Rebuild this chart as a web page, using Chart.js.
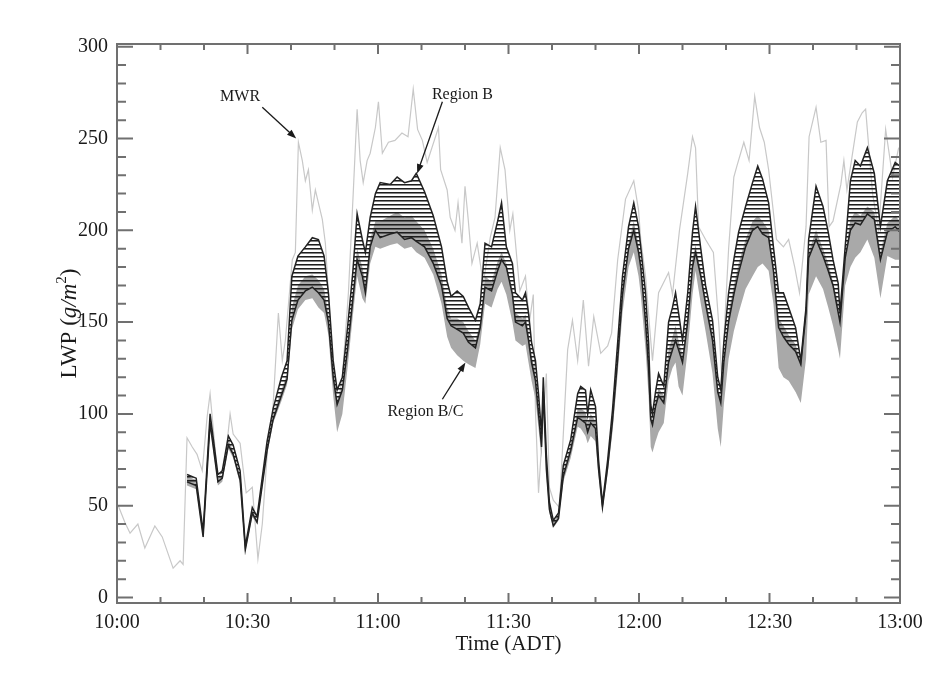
<!DOCTYPE html>
<html>
<head>
<meta charset="utf-8">
<script src="https://cdn.jsdelivr.net/npm/chart.js@4.4.0/dist/chart.umd.min.js"></script>
<style>
html, body { margin: 0; padding: 0; background: #fff; }
</style>
</head>
<body>
<canvas id="chart" width="931" height="673"></canvas>
<script>
// minutes after 10:00 ADT
var xTickValues = [0, 30, 60, 90, 120, 150, 180];
var yTickValues = [0, 50, 100, 150, 200, 250, 300];

var bandTime = [
    16.1, 18.2, 19.8, 21.4, 23.2, 24.2, 25.6, 26.7, 28.3, 29.5,
    31.1, 32.2, 34.5, 35.9, 37.8, 39.1, 40.2, 41.6, 43.3, 44.9,
    46.3, 47.6, 48.6, 49.7, 50.6, 51.8, 53.0, 54.2, 55.2, 56.4,
    57.1, 58.2, 59.4, 60.5, 62.8, 64.4, 66.1, 67.7, 68.8, 70.7,
    72.7, 74.6, 75.9, 76.8, 78.2, 79.6, 80.8, 82.4, 83.5, 84.6,
    86.1, 87.5, 88.4, 89.5, 90.9, 91.6, 93.2, 93.9, 94.6, 95.3,
    96.2, 96.9, 97.6, 98.0, 98.7, 99.4, 100.3, 101.5, 102.6, 104.3,
    105.9, 106.6, 107.7, 108.2, 108.9, 110.0, 110.7, 111.6, 112.8, 113.9,
    115.1, 116.2, 117.6, 118.8, 119.9, 120.4, 121.5, 122.2, 122.7, 123.1,
    123.8, 124.5, 125.7, 126.8, 127.7, 128.4, 129.1, 130.0, 131.2, 132.3,
    133.0, 134.2, 135.3, 136.9, 138.1, 138.8, 139.5, 140.6, 141.8, 142.9,
    144.5, 146.1, 147.3, 148.4, 149.8, 150.9, 152.1, 153.2, 154.4, 156.0,
    157.2, 158.4, 159.0, 160.7, 162.3, 163.5, 164.6, 165.8, 166.2, 167.4,
    168.6, 169.7, 170.9, 172.5, 174.1, 175.5, 177.1, 178.9, 180.0
];
var regionBTop = [
    67, 65, 36, 100, 67, 69, 88, 83, 69, 28,
    49, 44, 85, 103, 120, 129, 175, 186, 191, 196,
    195, 186, 166, 129, 113, 120, 147, 177, 209, 195,
    188, 207, 220, 226, 225, 229, 226, 227, 231, 221,
    208, 191, 172, 164, 167, 164, 158, 151, 160, 193,
    191, 205, 215, 191, 182, 166, 162, 166, 155, 139,
    129, 111, 89, 120, 78, 52, 42, 46, 72, 86,
    111, 115, 113, 100, 113, 104, 75, 51, 75, 102,
    139, 175, 202, 215, 202, 191, 166, 139, 105, 100,
    112, 122, 115, 150, 158, 166, 155, 140, 166, 199,
    213, 190, 170, 151, 120, 113, 139, 166, 184, 199,
    213, 226, 235, 228, 215, 191, 166, 166, 158, 147,
    129, 158, 195, 224, 213, 199, 184, 171, 155, 191,
    227, 238, 235, 245, 231, 202, 227, 237, 235
];
var regionBBottom = [
    63, 61, 33, 95, 63, 65, 83, 78, 64, 26,
    46, 41, 80, 97, 110, 119, 151, 162, 167, 169,
    166, 162, 150, 120, 105, 113, 135, 162, 184, 175,
    166, 191, 200, 196, 198, 199, 195, 196, 194, 191,
    182, 170, 152, 148, 146, 144, 139, 136, 147, 169,
    167, 178, 184, 180, 165, 150, 148, 150, 140, 128,
    118, 100, 82, 112, 70, 48, 39, 43, 66, 80,
    98, 97, 95, 90, 95, 92, 70, 49, 71, 96,
    130, 165, 190, 200, 188, 180, 150, 125, 97, 94,
    104, 110, 106, 128, 135, 140, 135, 128, 150, 180,
    188, 175, 160, 140, 112, 106, 128, 150, 165, 177,
    191, 200, 202, 198, 196, 178, 147, 142, 138, 134,
    127, 155, 185, 195, 186, 178, 170, 155, 150, 185,
    200, 204, 203, 209, 206, 184, 199, 202, 199
];
var regionBCTop = [
    66, 64, 35, 98, 65, 67, 86, 80, 66, 27,
    47, 42, 82, 100, 113, 122, 158, 170, 175, 176,
    173, 168, 155, 123, 108, 115, 140, 167, 190, 180,
    172, 195, 205, 205, 208, 210, 207, 208, 205, 200,
    190, 176, 158, 152, 152, 150, 145, 140, 150, 175,
    172, 183, 188, 182, 168, 155, 152, 154, 145, 132,
    122, 104, 85, 114, 73, 50, 41, 45, 69, 83,
    103, 103, 101, 95, 100, 96, 72, 50, 73, 98,
    133, 168, 193, 205, 192, 183, 155, 130, 100, 96,
    107, 114, 110, 135, 142, 148, 140, 132, 155, 185,
    192, 178, 163, 144, 115, 109, 130, 155, 170, 182,
    195, 205, 208, 205, 200, 182, 152, 148, 143, 138,
    128, 156, 188, 200, 190, 182, 172, 160, 152, 186,
    206, 210, 208, 213, 210, 188, 204, 208, 205
];
var regionBCBottom = [
    61, 59, 32, 93, 61, 63, 81, 76, 62, 25,
    44, 40, 78, 95, 107, 116, 146, 157, 162, 163,
    158, 155, 143, 110, 90, 100, 125, 153, 175, 163,
    160, 182, 191, 190, 192, 193, 190, 191, 188, 185,
    176, 160, 142, 136, 132, 129, 127, 125, 138, 160,
    158, 168, 172, 165, 150, 140, 137, 138, 128, 118,
    108, 92, 76, 105, 66, 46, 38, 42, 63, 76,
    93, 92, 88, 84, 88, 85, 66, 47, 68, 90,
    122, 155, 180, 188, 175, 165, 135, 110, 82, 79,
    85, 90, 95, 118, 125, 128, 115, 110, 135, 165,
    178, 160, 145, 122, 92, 82, 105, 130, 145, 155,
    168, 175, 180, 182, 178, 160, 125, 120, 118, 112,
    106, 130, 165, 175, 168, 158, 148, 135, 130, 170,
    180, 185, 188, 195, 185, 163, 186, 184, 184
];

var mwrTime = [
    0.3, 1.8, 3.0, 4.8, 6.4, 8.7, 10.4, 12.9, 14.5, 15.2,
    16.1, 17.3, 18.4, 19.6, 20.7, 21.4, 23.2, 24.8, 26.0, 26.7,
    28.3, 29.0, 29.7, 31.1, 32.4, 33.4, 34.7, 35.7, 37.1, 38.0,
    38.7, 40.3, 41.0, 41.7, 42.6, 43.3, 44.0, 44.9, 45.6, 46.3,
    47.2, 47.9, 48.6, 49.5, 50.6, 51.8, 53.2, 54.3, 55.2, 55.9,
    56.6, 57.5, 58.2, 59.4, 60.1, 61.0, 62.4, 63.9, 65.5, 66.9,
    68.1, 69.1, 70.2, 71.3, 73.9, 74.4, 75.9, 76.6, 77.7, 78.4,
    79.3, 80.0, 80.7, 81.6, 82.8, 84.2, 85.8, 86.9, 88.1, 89.2,
    90.3, 91.0, 92.6, 93.9, 94.8, 95.7, 96.2, 96.9, 97.8, 98.7,
    99.4, 100.3, 101.7, 102.6, 103.6, 104.7, 105.9, 107.2, 108.4, 109.6,
    111.2, 112.8, 113.7, 115.1, 116.9, 118.8, 119.9, 120.4, 121.5, 122.7,
    123.1, 124.5, 126.8, 127.7, 129.3, 131.2, 132.3, 133.0, 133.7, 135.3,
    137.1, 138.4, 139.0, 139.5, 140.6, 141.8, 142.5, 144.1, 145.3, 146.6,
    147.7, 148.8, 149.8, 151.6, 153.2, 154.4, 155.8, 156.9, 158.4, 159.1,
    160.7, 161.8, 163.0, 163.7, 164.6, 166.4, 167.1, 167.8, 170.2, 171.3,
    172.1, 173.7, 175.1, 176.7, 178.3, 179.7
];
var mwrLwp = [
    50, 41, 35, 40, 27, 39, 33, 16, 20, 18,
    87, 82, 78, 69, 98, 111, 64, 73, 100, 89,
    84, 70, 57, 60, 21, 40, 84, 97, 155, 129,
    140, 184, 188, 248, 238, 227, 233, 211, 222, 215,
    206, 193, 166, 129, 102, 120, 166, 220, 266, 238,
    226, 238, 242, 256, 270, 242, 248, 249, 253, 251,
    277, 255, 249, 237, 256, 233, 222, 207, 200, 215,
    193, 224, 207, 182, 193, 171, 196, 207, 245, 233,
    200, 209, 167, 175, 150, 165, 102, 57, 90, 122,
    60, 53, 49, 89, 135, 151, 129, 162, 126, 153,
    133, 137, 144, 184, 217, 227, 211, 195, 175, 140,
    129, 166, 177, 165, 200, 231, 251, 245, 202, 195,
    188, 147, 120, 140, 190, 229, 235, 248, 238, 273,
    256, 248, 233, 195, 191, 195, 180, 166, 202, 251,
    267, 248, 249, 202, 205, 225, 238, 222, 259, 264,
    266, 220, 200, 255, 229, 245
];

function pts(xs, ys) {
    return xs.map(function(t, i) { return {x: t, y: ys[i]}; });
}

function hhmm(t) {
    var h = 10 + Math.floor(t / 60), m = t % 60;
    return h + ':' + (m < 10 ? '0' : '') + m;
}

var canvas = document.getElementById('chart');
var ctx = canvas.getContext('2d');

// horizontal hatching for region B (thin dark rows, see-through gaps)
var pc = document.createElement('canvas');
pc.width = 4; pc.height = 4;
var pctx = pc.getContext('2d');
pctx.fillStyle = 'rgba(30,30,30,1)';
pctx.fillRect(0, 0, 4, 1);
pctx.fillStyle = 'rgba(30,30,30,0.55)';
pctx.fillRect(0, 1, 4, 1);
var hatch = ctx.createPattern(pc, 'repeat');

var serif = "'Liberation Serif', 'DejaVu Serif', serif";

var framePlugin = {
    id: 'frame',
    afterDraw: function(chart) {
        var c = chart.ctx, a = chart.chartArea;
        var xs = chart.scales.x, ys = chart.scales.y;
        c.save();
        c.strokeStyle = '#707070';
        c.lineWidth = 2;
        c.strokeRect(a.left, a.top, a.right - a.left, a.bottom - a.top);
        c.beginPath();
        for (var t = 0; t <= 180; t += 10) {
            var px = xs.getPixelForValue(t), len = t % 30 === 0 ? 10 : 6;
            c.moveTo(px, a.bottom); c.lineTo(px, a.bottom - len);
            c.moveTo(px, a.top); c.lineTo(px, a.top + len);
        }
        for (var v = 0; v <= 300; v += 10) {
            var py = ys.getPixelForValue(v), l2 = v % 50 === 0 ? 16 : 9;
            c.moveTo(a.left, py); c.lineTo(a.left + l2, py);
            c.moveTo(a.right, py); c.lineTo(a.right - l2, py);
        }
        c.stroke();

        // axis titles
        c.fillStyle = '#1a1a1a';
        c.font = '21px ' + serif;
        c.textAlign = 'center';
        c.textBaseline = 'alphabetic';
        c.fillText('Time (ADT)', (a.left + a.right) / 2, 650);

        var parts = [
            ['LWP (', '23px ' + serif, 0],
            ['g/m', 'italic 23px ' + serif, 0],
            ['2', '15px ' + serif, -10],
            [')', '23px ' + serif, 0]
        ];
        var total = 0;
        parts.forEach(function(p) { c.font = p[1]; total += c.measureText(p[0]).width; });
        c.translate(76, (a.top + a.bottom) / 2);
        c.rotate(-Math.PI / 2);
        c.textAlign = 'left';
        var pos = -total / 2;
        parts.forEach(function(p) {
            c.font = p[1];
            c.fillText(p[0], pos, p[2]);
            pos += c.measureText(p[0]).width;
        });
        c.restore();
    }
};

var notes = [
    {text: 'MWR', tx: 28.3, ty: 273, from: [33.4, 267], to: [41.2, 250]},
    {text: 'Region B', tx: 79.4, ty: 274, from: [74.8, 270], to: [69.0, 231]},
    {text: 'Region B/C', tx: 70.9, ty: 101, from: [74.8, 108], to: [80.1, 128]}
];

var notePlugin = {
    id: 'notes',
    afterDatasetsDraw: function(chart) {
        var c = chart.ctx, xs = chart.scales.x, ys = chart.scales.y;
        c.save();
        c.fillStyle = '#1a1a1a';
        c.strokeStyle = '#1a1a1a';
        c.lineWidth = 1.3;
        c.font = '16px ' + serif;
        c.textAlign = 'center';
        c.textBaseline = 'middle';
        notes.forEach(function(n) {
            c.fillText(n.text, xs.getPixelForValue(n.tx), ys.getPixelForValue(n.ty));
            var x0 = xs.getPixelForValue(n.from[0]), y0 = ys.getPixelForValue(n.from[1]);
            var x1 = xs.getPixelForValue(n.to[0]), y1 = ys.getPixelForValue(n.to[1]);
            var ang = Math.atan2(y1 - y0, x1 - x0);
            c.beginPath();
            c.moveTo(x0, y0);
            c.lineTo(x1 - 6 * Math.cos(ang), y1 - 6 * Math.sin(ang));
            c.stroke();
            c.beginPath();
            c.moveTo(x1, y1);
            c.lineTo(x1 - 10 * Math.cos(ang - 0.35), y1 - 10 * Math.sin(ang - 0.35));
            c.lineTo(x1 - 10 * Math.cos(ang + 0.35), y1 - 10 * Math.sin(ang + 0.35));
            c.closePath();
            c.fill();
        });
        c.restore();
    }
};

var chart = new Chart(ctx, {
    type: 'line',
    data: {
        datasets: [
            {
                label: 'Region B',
                data: pts(bandTime, regionBTop),
                borderColor: '#222',
                borderWidth: 1.5,
                backgroundColor: hatch,
                fill: {target: 1},
                order: 1
            },
            {
                label: 'Region B lower',
                data: pts(bandTime, regionBBottom),
                borderColor: '#222',
                borderWidth: 1.5,
                fill: false,
                order: 0
            },
            {
                label: 'Region B/C',
                data: pts(bandTime, regionBCTop),
                borderColor: 'rgba(0,0,0,0)',
                borderWidth: 0,
                backgroundColor: '#a9a9a9',
                fill: {target: 3},
                order: 2
            },
            {
                label: 'Region B/C lower',
                data: pts(bandTime, regionBCBottom),
                borderColor: 'rgba(0,0,0,0)',
                borderWidth: 0,
                fill: false,
                order: 2
            },
            {
                label: 'MWR',
                data: pts(mwrTime, mwrLwp),
                borderColor: '#c8c8c8',
                borderWidth: 1.2,
                fill: false,
                order: 3
            }
        ]
    },
    options: {
        responsive: false,
        animation: false,
        layout: {padding: {left: 0, right: 31, top: 44, bottom: 0}},
        elements: {point: {radius: 0}, line: {tension: 0}},
        plugins: {legend: {display: false}, tooltip: {enabled: false}},
        scales: {
            x: {
                type: 'linear',
                min: 0,
                max: 180,
                afterBuildTicks: function(s) {
                    s.ticks = xTickValues.map(function(v) { return {value: v}; });
                },
                afterFit: function(s) { s.height = 70; },
                grid: {display: false, drawTicks: false},
                border: {display: false},
                ticks: {
                    padding: 8,
                    maxRotation: 0,
                    color: '#1a1a1a',
                    font: {family: serif, size: 20},
                    callback: function(v) { return hhmm(v); }
                }
            },
            y: {
                min: -3,
                max: 301.5,
                afterBuildTicks: function(s) {
                    s.ticks = yTickValues.map(function(v) { return {value: v}; });
                },
                afterFit: function(s) { s.width = 117; },
                grid: {display: false, drawTicks: false},
                border: {display: false},
                ticks: {
                    padding: 9,
                    color: '#1a1a1a',
                    font: {family: serif, size: 20}
                }
            }
        }
    },
    plugins: [framePlugin, notePlugin]
});
</script>
</body>
</html>
